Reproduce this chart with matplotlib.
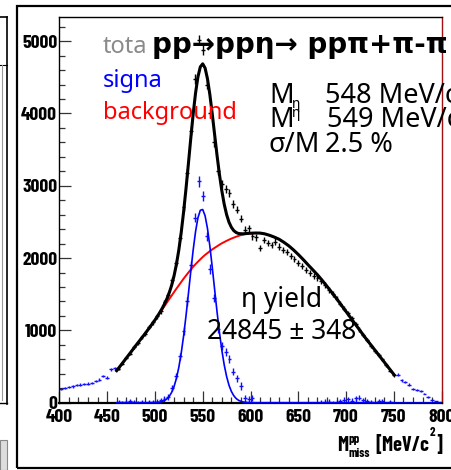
import numpy as np
import matplotlib
matplotlib.use("Agg")
import matplotlib.pyplot as plt
from matplotlib.lines import Line2D
from matplotlib.patches import Rectangle

W, H = 452, 470

# ---------------- data ----------------
bin_width = 4
x_left = np.arange(402, 460, bin_width)      # 402..458
x_fit = np.arange(462, 754, bin_width)       # 462..750
x_right = np.arange(754, 800, bin_width)     # 754..798

counts_left = [195, 205, 212, 225, 240, 250, 255, 265, 275, 300, 320, 370, 345, 460, 475]
counts_fit = [470, 540, 625, 680, 765, 830, 905, 955, 1045, 1110,
              1195, 1265, 1390, 1490, 1700, 1930, 2280, 2700, 3180, 3760,
              4480, 5020, 4880, 4400, 4000, 3600, 3200, 3020, 2960, 2900,
              2750, 2670, 2545, 2390, 2410,
              2300, 2290, 2140, 2250, 2210, 2180, 2225, 2160, 2110, 2085,
              2030, 1990, 1930, 1890, 1840, 1790, 1750, 1720, 1680, 1630,
              1560, 1500, 1440, 1370, 1300,
              1235, 1165, 1090, 1010, 935, 865, 790, 720, 660, 600, 520, 440, 380]
counts_right = [390, 310, 290, 250, 195, 175, 160, 125, 80, 40, 25, 10]
signal_fit = [10, 5, 15, 20, 5, 0, 10, -10, 5, 10,
              15, 35, 55, 75, 200, 370, 640, 990, 1400, 1900,
              2560, 3060, 2860, 2300, 1850, 1450, 1020, 780, 700, 600,
              430, 335, 230, 60, 50,
              65, -40, -200, -90, -120, -130, -60, -100, -110, -90,
              -120, -100, -110, -90, -140, -120, -90, -50, -10, 5,
              10, -20, 0, 20, 40,
              50, 30, 60, 70, 35, 20, 5, -10, 20, 30, -20, 10, -10]

curve_x = [460, 465, 470, 475, 480, 485, 490, 495, 500,
           502.5, 505, 507.5, 510, 512.5, 515, 517.5, 520, 522.5, 525,
           527.5, 530, 532.5, 535, 537.5, 540, 542.5, 545, 547.5, 550,
           552.5, 555, 557.5, 560, 562.5, 565, 567.5, 570, 572.5, 575,
           577.5, 580, 582.5, 585, 587.5, 590, 592.5, 595, 597.5, 600,
           605, 610, 615, 620, 625, 630, 635, 640, 645, 650,
           655, 660, 665, 670, 675, 680, 685, 690, 695, 700,
           705, 710, 715, 720, 725, 730, 735, 740, 745, 750]
background_curve = [443, 529, 615, 702, 790, 875, 960, 1050, 1140,
                    1188, 1237, 1286, 1335, 1384, 1433, 1481, 1530, 1577, 1623,
                    1669, 1715, 1758, 1800, 1841, 1880, 1916, 1950, 1983, 2015,
                    2044, 2070, 2096, 2120, 2142, 2163, 2185, 2205, 2222, 2239,
                    2255, 2270, 2283, 2296, 2307, 2318, 2326, 2334, 2339, 2343,
                    2347, 2346, 2335, 2315, 2290, 2260, 2218, 2170, 2113, 2050,
                    1982, 1910, 1840, 1770, 1692, 1610, 1526, 1440, 1350, 1260,
                    1170, 1080, 990, 900, 815, 730, 645, 560, 475, 390]
signal_curve = [0, 0, 0, 0, 0, 0, 0, 0, 2,
                4, 9, 16, 30, 52, 88, 142, 223, 336, 488,
                683, 921, 1198, 1500, 1812, 2109, 2365, 2556, 2662, 2672,
                2585, 2409, 2164, 1873, 1563, 1257, 974, 727, 523, 363,
                242, 156, 97, 58, 33, 19, 10, 5, 3, 1,
                0, 0, 0, 0, 0, 0, 0, 0, 0, 0,
                0, 0, 0, 0, 0, 0, 0, 0, 0, 0,
                0, 0, 0, 0, 0, 0, 0, 0, 0, 0]
signal_tail_x = [750, 800]
signal_tail = [0, 0]

x_ticks = [400, 450, 500, 550, 600, 650, 700, 750, 800]
y_ticks = [0, 1000, 2000, 3000, 4000, 5000]

# ---------------- figure ----------------
fig = plt.figure(figsize=(W / 100, H / 100), dpi=100)
fig.patch.set_facecolor("white")
renderer = fig.canvas.get_renderer()


def fx(px):
    return px / W


def fy(py):
    return 1 - py / H


ax_l, ax_r, ax_t, ax_b = 59.3, 441.7, 17.0, 402.7
ax = fig.add_axes([fx(ax_l), fy(ax_b), (ax_r - ax_l) / W, (ax_b - ax_t) / H])
ax.set_xlim(400, 800)
ax.set_ylim(0, (ax_b - ax_t) / 0.0723)

counts_all = np.array(counts_left + counts_fit + counts_right, dtype=float)
x_all = np.concatenate([x_left, x_fit, x_right])
blue_vals = np.array(counts_left + signal_fit + counts_right, dtype=float)
blue_err = np.sqrt(np.abs(counts_all))

ax.errorbar(x_all, blue_vals, xerr=bin_width / 2, yerr=blue_err, fmt="none",
            ecolor="#1010ff", elinewidth=1.0, capsize=0, zorder=2)
ax.errorbar(x_fit, counts_fit, xerr=bin_width / 2, yerr=np.sqrt(counts_fit),
            fmt="none", ecolor="black", elinewidth=1.0, capsize=0, zorder=2)

bg = np.array(background_curve, dtype=float)
sg = np.array(signal_curve, dtype=float)
ax.plot(curve_x, bg, color="#ff0000", lw=1.4, zorder=3)
ax.plot(curve_x, sg, color="#0000ff", lw=1.2, zorder=3)
ax.plot(signal_tail_x, signal_tail, color="#0000ff", lw=1.2, zorder=3)
ax.plot(curve_x, bg + sg, color="black", lw=2.2, zorder=4)

# ticks / spines
narrow = ["Barlow Condensed", "Liberation Sans Narrow", "Liberation Sans"]
tick_font = dict(family=narrow, weight="bold", size=14)
ax.set_xticks(x_ticks)
ax.set_yticks(y_ticks)
ax.set_xticks(np.arange(400, 801, 10), minor=True)
ax.set_yticks(np.arange(0, 5400, 200), minor=True)
ax.set_xticklabels([str(v) for v in x_ticks], fontdict=tick_font)
ax.set_yticklabels([str(v) for v in y_ticks], fontdict=tick_font)
ax.tick_params(which="both", direction="in", top=False, right=False, width=0.9, color="#333333")
ax.tick_params(which="major", length=8.5)
ax.tick_params(which="minor", length=4.2)
ax.tick_params(axis="x", pad=4.5)
ax.tick_params(axis="y", pad=1.5)
for s in ["left", "top"]:
    ax.spines[s].set_linewidth(1.0)
ax.spines["bottom"].set_linewidth(1.6)
ax.spines["right"].set_color("#a01010")
ax.spines["right"].set_linewidth(1.0)


# ---------------- texts ----------------
def ptext(px, py, s, **kw):
    kw.setdefault("va", "baseline")
    return fig.text(fx(px), fy(py), s, **kw)


def right_end(t):
    return t.get_window_extent(renderer).x1


sans = ["Noto Sans", "DejaVu Sans"]
ptext(103, 53, "tota", family=sans, size=17, color="#8a8a8a")
ptext(103, 87, "signa", family=sans, size=17, color="#0000ff")
ptext(103, 119, "background", family=sans, size=17, color="#ff0000")
ptext(152, 53, "pp\u2192pp\u03b7\u2192 pp\u03c0+\u03c0-\u03c0", family=["DejaVu Sans"],
      weight="bold", size=20, color="black")

m1 = ptext(269, 103, "M", family=sans, size=19.5)
ptext(right_end(m1) - 1.5, 108, "\u03b7", family=sans, size=10)
ptext(325, 103, "548 MeV/c", family=sans, size=19.5)
m2 = ptext(269, 127, "M", family=sans, size=19.5)
ptext(right_end(m2) - 1.5, 117, "\u03b7", family=sans, size=10)
ptext(327, 127, "549 MeV/c", family=sans, size=19.5)
ptext(269, 152, "\u03c3/M", family=sans, size=19.5)
ptext(325, 152, "2.5 %", family=sans, size=19.5)

ptext(282, 307, "\u03b7 yield", family=sans, size=19, ha="center")
ptext(282, 339, "24845 \u00b1 348", family=sans, size=19, ha="center")

# x-axis title  M^pp_miss [MeV/c^2], right-aligned at the axes' right edge
lab = dict(family=narrow, weight="bold")
pieces = []
tM = ptext(340, 451, "M", size=14.5, **lab)
pieces.append(tM)
e = right_end(tM)
tpp = ptext(e + 0.5, 443, "pp", size=9, **lab)
tms = ptext(e + 0.5, 457, "miss", size=9, **lab)
pieces += [tpp, tms]
e = max(right_end(tpp), right_end(tms)) + 5
tb = ptext(e, 451, "[MeV/c", size=14.5, **lab)
pieces.append(tb)
e = right_end(tb)
t2 = ptext(e + 0.5, 436, "2", size=9, **lab)
pieces.append(t2)
e = right_end(t2)
tr = ptext(e + 0.3, 451, "]", size=14.5, **lab)
pieces.append(tr)
shift = 442 - right_end(tr)
for t in pieces:
    x, y = t.get_position()
    t.set_position((x + shift / W, y))

# ---------------- frames ----------------
fig.add_artist(Rectangle((fx(16.5), fy(468)), (470 - 16.5) / W, (468 - 6) / H,
                         transform=fig.transFigure, fill=False, lw=1.6, ec="black"))
fig.add_artist(Line2D([fx(7), fx(7)], [fy(17), fy(404)], transform=fig.transFigure, color="black", lw=1.2))
fig.add_artist(Line2D([fx(0), fx(7)], [fy(17), fy(17)], transform=fig.transFigure, color="black", lw=1.2))
fig.add_artist(Line2D([fx(0), fx(7)], [fy(65), fy(65)], transform=fig.transFigure, color="black", lw=0.8))
fig.add_artist(Line2D([fx(0), fx(7)], [fy(403), fy(403)], transform=fig.transFigure, color="black", lw=1.0))
fig.add_artist(Line2D([fx(2.5), fx(2.5)], [fy(65), fy(400)], transform=fig.transFigure, color="#999999", lw=0.8))
fig.add_artist(Rectangle((fx(0), fy(470)), 7 / W, 30 / H, transform=fig.transFigure,
                         fc="#dddddd", ec="#888888", lw=0.8))

fig.savefig("out.png", dpi=100)
